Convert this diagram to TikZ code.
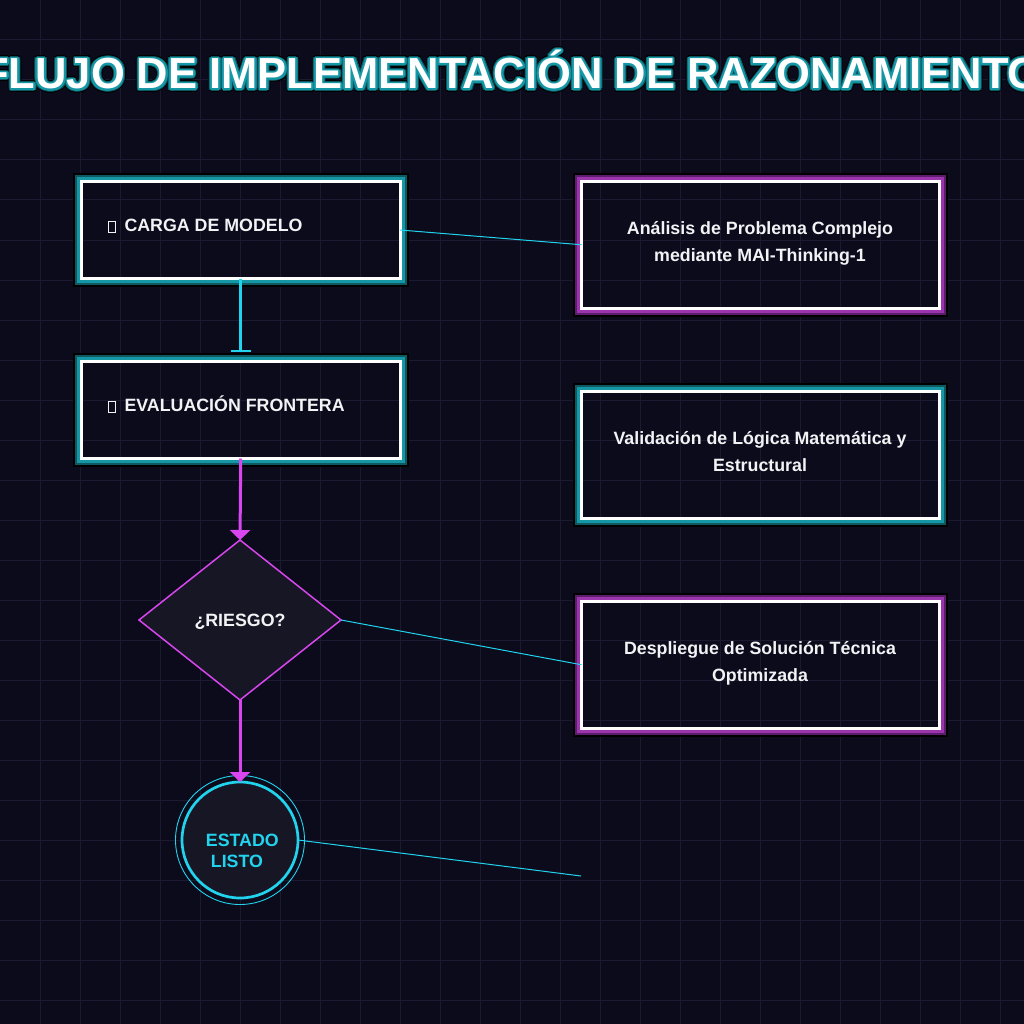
\documentclass[tikz,border=0pt]{standalone}
\usepackage{fontspec}
\setmainfont{Liberation Sans}
\usetikzlibrary{arrows.meta,shapes.geometric,calc}
\definecolor{bg}{HTML}{0B0B1C}
\definecolor{gridc}{HTML}{1B1A30}
\definecolor{cyanc}{HTML}{22D3EE}
\definecolor{magc}{HTML}{D946EF}
\definecolor{tealA}{HTML}{1597A6}
\definecolor{tealB}{HTML}{0D5861}
\definecolor{purA}{HTML}{9A35AE}
\definecolor{purB}{HTML}{5C1E6C}
\definecolor{shapefill}{HTML}{161625}
\definecolor{txt}{HTML}{F3F3F5}
\newcommand{\tofubox}{{\fboxsep=0pt\fboxrule=0.9pt\fbox{\rule{0pt}{10pt}\hspace{6.5pt}}}}
\newcommand{\titletext}{FLUJO DE IMPLEMENTACIÓN DE RAZONAMIENTO}
\newcommand{\glowring}[3]{%
  \draw[black, line width=2pt] ([shift={(-7.8,-7.8)}]#1.north west) rectangle ([shift={(7.8,7.8)}]#1.south east);
  \draw[#3, line width=2pt] ([shift={(-5.8,-5.8)}]#1.north west) rectangle ([shift={(5.8,5.8)}]#1.south east);
  \draw[#2, line width=3.3pt] ([shift={(-3.15,-3.15)}]#1.north west) rectangle ([shift={(3.15,3.15)}]#1.south east);
}
\tikzset{
  lbox/.style={draw=white, line width=3pt, minimum width=318.5pt, minimum height=97pt, inner sep=0pt, outer sep=0pt},
  rbox/.style={draw=white, line width=3pt, minimum width=358pt, minimum height=126.5pt, inner sep=0pt, outer sep=0pt},
  boxtext/.style={text=txt, inner sep=0pt, font=\fontsize{17.8}{21}\selectfont\bfseries},
  thinlink/.style={cyanc, line width=1pt},
  magarrow/.style={magc, line width=3pt, -{Triangle[width=20pt,length=10pt]}},
  titlefont/.style={inner sep=0pt, anchor=base, font=\fontsize{43.5}{50}\selectfont\bfseries}
}
\begin{document}
\begin{tikzpicture}[x=1pt,y=-1pt]
\useasboundingbox (0,0) rectangle (1024,1024);
\clip (0,0) rectangle (1024,1024);
\fill[bg] (0,0) rectangle (1024,1024);
\foreach \i in {40,80,...,1000} {
  \draw[gridc, line width=1pt] (\i,0) -- (\i,1024);
  \draw[gridc, line width=1pt] (0,\i) -- (1024,\i);
}
% title with layered outline
\foreach \a in {0,22.5,...,337.5} {
  \node[titlefont, text=black] (titleK\a) at ($(512,89)+(\a:3.6)$) {\titletext};
}
\foreach \a in {0,22.5,...,337.5} {
  \node[titlefont, text=tealB] (titleB\a) at ($(512,89)+(\a:2.8)$) {\titletext};
}
\foreach \a in {0,22.5,...,337.5} {
  \node[titlefont, text=tealA] (titleA\a) at ($(512,89)+(\a:1.8)$) {\titletext};
}
\node[titlefont, text=white] (title) at (512,89) {\titletext};

% boxes
\node[lbox] (box1) at (240.75,230) {};
\node[lbox] (box2) at (240.75,410) {};
\node[rbox] (box3) at (760.5,244.75) {};
\node[rbox] (box4) at (760.5,454.75) {};
\node[rbox] (box5) at (760.5,664.75) {};
\glowring{box1}{tealA}{tealB}
\glowring{box2}{tealA}{tealB}
\glowring{box3}{purA}{purB}
\glowring{box4}{tealA}{tealB}
\glowring{box5}{purA}{purB}

\node[boxtext, anchor=base west] (t1) at (107.7,231.7) {\tofubox\hspace{8.3pt}CARGA DE MODELO};
\node[boxtext, anchor=base west] (t2) at (107.7,411.7) {\tofubox\hspace{8.3pt}EVALUACIÓN FRONTERA};
\node[boxtext, anchor=base] (t3a) at (760,234) {Análisis de Problema Complejo};
\node[boxtext, anchor=base] (t3b) at (760,261.7) {mediante MAI-Thinking-1};
\node[boxtext, anchor=base] (t4a) at (760,444) {Validación de Lógica Matemática y};
\node[boxtext, anchor=base] (t4b) at (760,471.7) {Estructural};
\node[boxtext, anchor=base] (t5a) at (760,654) {Despliegue de Solución Técnica};
\node[boxtext, anchor=base] (t5b) at (760,681.7) {Optimizada};

% decision
\node[diamond, draw=magc, fill=shapefill, line width=1.5pt, minimum width=202pt, minimum height=160pt,
      inner sep=0pt, outer sep=0pt, text=txt, text height=12.6pt, text depth=0pt,
      font=\fontsize{17.8}{21}\selectfont\bfseries] (dia) at (240,620) {¿RIESGO?};

% end state
\node[circle, draw=cyanc, fill=shapefill, line width=2.7pt, minimum size=116pt, inner sep=0pt, outer sep=0pt] (circ) at (240,840) {};
\draw[cyanc, line width=0.9pt] (circ.center) circle[radius=64.5pt];
\node[inner sep=0pt, anchor=base west, text=cyanc, font=\fontsize{17.8}{21}\selectfont\bfseries] (c1) at (205.7,846.7) {ESTADO};
\node[inner sep=0pt, anchor=base west, text=cyanc, font=\fontsize{17.8}{21}\selectfont\bfseries] (c2) at (210.7,867.7) {LISTO};

% connectors
\draw[cyanc, line width=3pt, shorten >=10pt, -{Bar[width=20pt,line width=1.8pt]}] (box1.south) -- (box2.north);
\draw[magarrow] (box2.south) -- (dia.north);
\draw[magarrow] (dia.south) -- (circ.north);
\coordinate (freeend) at (581,876);
\draw[thinlink] (box1.east) -- (box3.west);
\draw[thinlink] (dia.east) -- (box5.west);
\draw[thinlink] (circ.east) -- (freeend);
\end{tikzpicture}
\end{document}
